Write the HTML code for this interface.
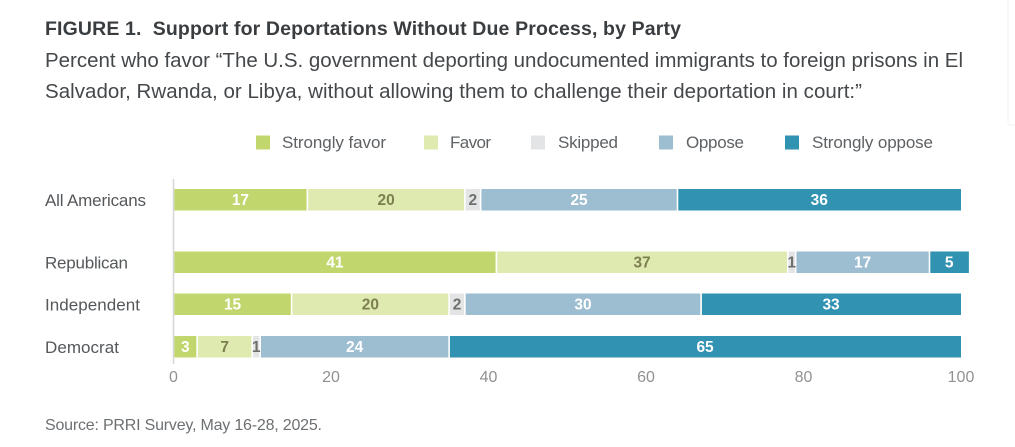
<!DOCTYPE html>
<html lang="en">
<head>
<meta charset="utf-8">
<title>Support for Deportations Without Due Process, by Party</title>
<style>
html,body{margin:0;padding:0;background:#fff;width:1015px;height:447px;overflow:hidden}
svg{display:block;font-family:"Liberation Sans",sans-serif}
</style>
</head>
<body>
<svg id="chart" width="1015" height="447" viewBox="0 0 1015 447" xmlns="http://www.w3.org/2000/svg">
  <rect x="0" y="0" width="1015" height="447" fill="#ffffff"/>
  <rect x="1008" y="-5" width="20" height="130" rx="2" fill="#ffffff" stroke="#f3f3f3" stroke-width="1"/>
  <text x="45" y="35" font-size="19.5" font-weight="700" fill="#3a3d40" xml:space="preserve" textLength="636" lengthAdjust="spacing">FIGURE 1.  Support for Deportations Without Due Process, by Party</text>
  <text x="45" y="67" font-size="20.5" fill="#45484b" textLength="918" lengthAdjust="spacing">Percent who favor “The U.S. government deporting undocumented immigrants to foreign prisons in El</text>
  <text x="45" y="98" font-size="20.5" fill="#45484b" textLength="817" lengthAdjust="spacing">Salvador, Rwanda, or Libya, without allowing them to challenge their deportation in court:”</text>
  <text x="45" y="430" font-size="16" fill="#6d7073" textLength="277" lengthAdjust="spacing">Source: PRRI Survey, May 16-28, 2025.</text>
  <g id="legend"></g>
  <g id="plot"></g>
</svg>
<script>
const categories = ['All Americans', 'Republican', 'Independent', 'Democrat'];
const seriesNames = ['Strongly favor', 'Favor', 'Skipped', 'Oppose', 'Strongly oppose'];
const stronglyFavor = [17, 41, 15, 3];
const favor = [20, 37, 20, 7];
const skipped = [2, 1, 2, 1];
const oppose = [25, 17, 30, 24];
const stronglyOppose = [36, 5, 33, 65];
const xTicks = [0, 20, 40, 60, 80, 100];

const seriesValues = [stronglyFavor, favor, skipped, oppose, stronglyOppose];
const seriesFill = ['#c1d76d', '#deeab0', '#e3e4e6', '#9dbdd1', '#3192b1'];
const seriesText = ['#ffffff', '#7d7f50', '#6f6f6c', '#ffffff', '#ffffff'];
const legendSwatchX = [256, 424, 531, 659, 785];
const legendLabelX = [282, 450, 558, 686, 812];
const legendLabelW = [104, 41, 60, 58, 121];
const rowTop = [189, 251.5, 293.5, 336];
const rowLabelW = [101, 83, 95, 74];

const SVG_NS = 'http://www.w3.org/2000/svg';
const BAR_H = 21.5;
const GAP = 0.8;
const xScale = v => 173.5 + v * 7.875;
const svgEl = (tag, attrs, parent) => {
  const el = document.createElementNS(SVG_NS, tag);
  Object.keys(attrs).forEach(k => el.setAttribute(k, attrs[k]));
  parent.appendChild(el);
  return el;
};
const plot = document.getElementById('plot');
const legend = document.getElementById('legend');

seriesNames.forEach((name, i) => {
  const swatch = svgEl('rect', {x: legendSwatchX[i], y: 135.5, width: 14, height: 14, fill: seriesFill[i]}, legend);
  
  
  const label = svgEl('text', {x: legendLabelX[i], y: 148, 'font-size': 17, fill: '#5f6265', textLength: legendLabelW[i], lengthAdjust: 'spacing'}, legend);
  label.textContent = name;
  
  
});

const axisLine = svgEl('line', {x1: xScale(0), x2: xScale(0), y1: 179, y2: 364, stroke: '#d5d6d8', 'stroke-width': 1.5}, plot);



categories.forEach((cat, r) => {
  const top = rowTop[r];
  const catLabel = svgEl('text', {x: 45, y: top + 17, 'font-size': 17, fill: '#55585b', textLength: rowLabelW[r], lengthAdjust: 'spacing'}, plot);
  catLabel.textContent = cat;
  
  
  let cum = 0;
  seriesValues.forEach((values, s) => {
    const v = values[r];
    const x0 = xScale(cum);
    const x1 = xScale(cum + v);
    const isLast = s === seriesValues.length - 1;
    const left = x0 + GAP;
    const right = isLast ? x1 : x1 - GAP;
    const bar = svgEl('rect', {x: left, y: top, width: Math.max(right - left, 0.5), height: BAR_H, fill: seriesFill[s]}, plot);
    
    
    const valueLabel = svgEl('text', {x: (x0 + x1) / 2, y: top + 16, 'font-size': 15.5, 'font-weight': 700, 'text-anchor': 'middle', fill: seriesText[s]}, plot);
    valueLabel.textContent = String(v);
    
    
    cum += v;
  });
});

xTicks.forEach(t => {
  const tick = svgEl('text', {x: xScale(t), y: 382, 'font-size': 16, 'text-anchor': 'middle', fill: '#8f9193'}, plot);
  tick.textContent = String(t);
  
  
});
</script>
</body>
</html>
